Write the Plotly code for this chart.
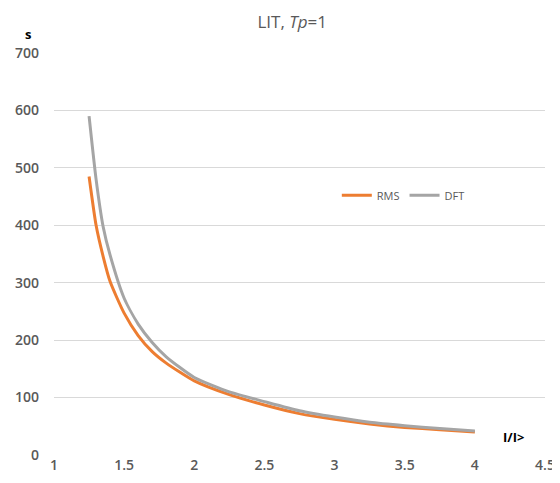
import plotly.graph_objects as go

x_vals = [1.25, 1.3, 1.35, 1.4, 1.5, 1.6, 1.7, 1.8, 2.0, 2.25, 2.5, 2.75, 3.0, 3.25, 3.5, 3.75, 4.0]
rms_vals = [485, 400, 346, 302, 247, 208, 180, 160, 129, 105, 87, 72, 62, 54, 48, 44, 40]
dft_vals = [590, 480, 398, 348, 273, 228, 196, 171, 135, 110, 93, 77, 66, 57, 51, 46, 42]

x_ticks = [1, 1.5, 2, 2.5, 3, 3.5, 4, 4.5]
y_ticks = [0, 100, 200, 300, 400, 500, 600, 700]

fig = go.Figure()
fig.add_trace(go.Scatter(x=x_vals, y=rms_vals, name="RMS", mode="lines",
                         line=dict(color="#ED7D31", width=3, shape="spline", smoothing=0.6)))
fig.add_trace(go.Scatter(x=x_vals, y=dft_vals, name="DFT", mode="lines",
                         line=dict(color="#A5A5A5", width=3, shape="spline", smoothing=0.6)))

tick_font = dict(family="Open Sans", size=14, color="#595959", weight=600)

fig.update_layout(
    width=552, height=475,
    margin=dict(l=46, r=15, t=45, b=28, autoexpand=False),
    paper_bgcolor="white", plot_bgcolor="white",
    title=dict(text="LIT, <i>Tp</i>=1", x=0.515, xanchor="center", y=0.97, yanchor="middle",
               font=dict(family="Open Sans", size=17, color="#595959")),
    legend=dict(orientation="h", x=0.576, y=0.646, xanchor="left", yanchor="middle",
                font=dict(family="Open Sans", size=11, color="#595959"),
                bgcolor="rgba(0,0,0,0)", itemwidth=30),
    xaxis=dict(range=[1, 4.5], tickvals=x_ticks, ticktext=[str(v) for v in x_ticks],
               showgrid=False, zeroline=False, showline=False, tickfont=tick_font,
               ticks="", fixedrange=True, automargin=False),
    yaxis=dict(range=[0, 700], tickvals=y_ticks, showgrid=True, gridcolor="#D9D9D9",
               gridwidth=1, zeroline=False, showline=False, tickfont=tick_font,
               ticks="", ticklabelstandoff=14, fixedrange=True, automargin=False),
    annotations=[
        dict(text="<b>s</b>", xref="paper", yref="paper", x=-0.053, y=1.048,
             xanchor="center", yanchor="middle", showarrow=False,
             font=dict(family="Open Sans", size=13, color="black")),
        dict(text="<b>I/I></b>", xref="paper", yref="paper", x=0.935, y=0.045,
             xanchor="center", yanchor="middle", showarrow=False,
             font=dict(family="Open Sans", size=13, color="black")),
    ],
)

fig.write_html("out.html")
